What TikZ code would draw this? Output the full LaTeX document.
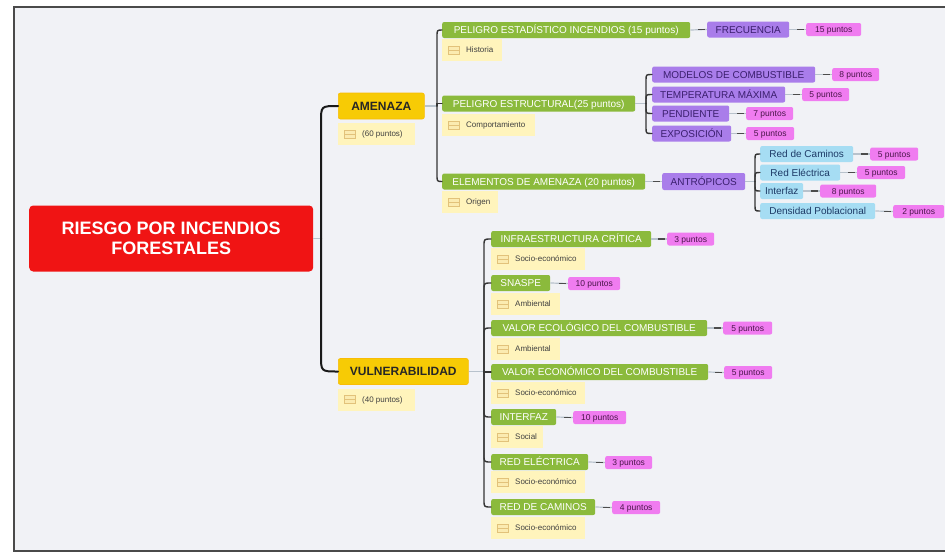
\documentclass[tikz,border=0pt]{standalone}
\usepackage{fontspec}
\setmainfont{Liberation Sans}
\usetikzlibrary{calc}

\definecolor{bgc}{HTML}{F1F2F6}
\definecolor{framec}{HTML}{4A4A4A}
\definecolor{rootc}{HTML}{F01414}
\definecolor{mainc}{HTML}{F7CB05}
\definecolor{notec}{HTML}{FFF4BC}
\definecolor{greenc}{HTML}{8BBA3C}
\definecolor{purplec}{HTML}{A97DEA}
\definecolor{purpletext}{HTML}{3B1F6E}
\definecolor{pinkc}{HTML}{F07CF0}
\definecolor{pinktext}{HTML}{4A154A}
\definecolor{bluec}{HTML}{A6DDF3}
\definecolor{bluetext}{HTML}{1D3A66}
\definecolor{linec}{HTML}{353535}
\definecolor{stubc}{HTML}{B8C2CC}
\definecolor{iconc}{HTML}{E2C27A}
\definecolor{iconfill}{HTML}{FBEBB0}

\tikzset{
  box/.style={anchor=west, inner sep=0pt, rounded corners=2pt, minimum height=16pt},
  rootbox/.style={anchor=west, inner sep=0pt, align=center, fill=rootc, text=white, font=\fontsize{18}{20.5}\selectfont\bfseries, rounded corners=4pt, minimum height=66pt},
  mainbox/.style={box, fill=mainc, draw=mainc!80!orange, line width=0.6pt, text=black!85, font=\fontsize{12}{14}\selectfont\bfseries, minimum height=26pt, text height=8.6pt, text depth=0pt},
  greenbox/.style={box, fill=greenc, text=white, font=\fontsize{10}{12}\selectfont, text height=7.2pt, text depth=0pt},
  purplebox/.style={box, fill=purplec, text=purpletext, font=\fontsize{10}{12}\selectfont, text height=7.2pt, text depth=0pt},
  bluebox/.style={box, fill=bluec, text=bluetext, font=\fontsize{10}{12}\selectfont, text height=7.2pt, text depth=0pt},
  pinkbox/.style={box, fill=pinkc, text=pinktext, font=\fontsize{8.5}{10}\selectfont, minimum height=13pt, text height=6.1pt, text depth=0pt},
  notebox/.style={anchor=west, inner sep=0pt, fill=notec, minimum height=22pt},
  notetext/.style={anchor=west, inner sep=0pt, text=black!75, font=\fontsize{8}{10}\selectfont, text height=5.8pt, text depth=0pt},
  trunk/.style={draw=linec, line width=1.4pt, line cap=round},
  roottrunk/.style={draw=black!90, line width=2pt, line cap=round},
  stub/.style={draw=stubc, line width=1.2pt},
  dashc/.style={draw=black!70, line width=1.4pt},
  iconstyle/.style={draw=iconc, fill=iconfill, line width=0.6pt}
}

% note box with its small icon and text
\newcommand\notenode[5]{%
  \node[notebox, minimum width=#4pt] (#1) at (#2,#3) {};
  \draw[iconstyle] ($(#1.west)+(6,-4)$) rectangle ($(#1.west)+(17,4)$);
  \draw[iconc, line width=0.6pt] ($(#1.west)+(6,0)$) -- ($(#1.west)+(17,0)$);
  \node[notetext] (#1t) at ($(#1.west)+(24,0)$) {#5};
}
% short link between a node and its single follower
\newcommand\linkto[2]{%
  \draw[stub] (#1.east) -- (#2.west);
  \draw[dashc] ($(#2.west)+(-9,0)$) -- ($(#2.west)+(-2,0)$);
}
% branch from a trunk point to a child, bending over the last few points
\newcommand\branch[4][trunk]{%
  \draw[#1] (#2) -- ($(#2|-#4.west)+(0,#3)$) .. controls (#2|-#4.west) .. (#4.west);
}

\begin{document}
\begin{tikzpicture}[x=1pt,y=-1pt]
  \useasboundingbox (0,0) rectangle (945,554);
  \fill[white] (0,0) rectangle (945,554);
  \draw[fill=bgc, draw=framec, line width=2.5pt] (14,7) rectangle (970,551);

  % ---- main nodes
  \node[rootbox, minimum width=284pt] (root) at (29,238.5) {RIESGO POR INCENDIOS\\FORESTALES};
  \node[mainbox, minimum width=86pt] (amen) at (338,106) {AMENAZA};
  \notenode{amenN}{338}{134}{77}{(60 puntos)}
  \node[mainbox, minimum width=130pt] (vuln) at (338,371.5) {VULNERABILIDAD};
  \notenode{vulnN}{338}{399.5}{77}{(40 puntos)}

  % ---- threat branch
  \node[greenbox, minimum width=248pt] (a1) at (442,30) {PELIGRO ESTADÍSTICO INCENDIOS (15 puntos)};
  \notenode{a1n}{442}{50}{60}{Historia}
  \node[greenbox, minimum width=193pt] (a2) at (442,103.5) {PELIGRO ESTRUCTURAL(25 puntos)};
  \notenode{a2n}{442}{125}{93}{Comportamiento}
  \node[greenbox, minimum width=203pt] (a3) at (442,181.5) {ELEMENTOS DE AMENAZA (20 puntos)};
  \notenode{a3n}{442}{202}{56}{Origen}

  \node[purplebox, minimum width=82pt] (frec) at (707,29.5) {FRECUENCIA};
  \node[pinkbox, minimum width=55pt] (frecP) at (806,29.5) {15 puntos};

  \node[purplebox, minimum width=163pt] (mod) at (652,74.5) {MODELOS DE COMBUSTIBLE};
  \node[pinkbox, minimum width=47pt] (modP) at (832,74.5) {8 puntos};
  \node[purplebox, minimum width=133pt] (temp) at (652,94.5) {TEMPERATURA MÁXIMA};
  \node[pinkbox, minimum width=47pt] (tempP) at (802,94.5) {5 puntos};
  \node[purplebox, minimum width=77pt] (pend) at (652,113.5) {PENDIENTE};
  \node[pinkbox, minimum width=47pt] (pendP) at (746,113.5) {7 puntos};
  \node[purplebox, minimum width=79pt] (expo) at (652,133.5) {EXPOSICIÓN};
  \node[pinkbox, minimum width=48pt] (expoP) at (746,133.5) {5 puntos};

  \node[purplebox, minimum width=83pt, minimum height=17pt] (antr) at (662,181.5) {ANTRÓPICOS};
  \node[bluebox, minimum width=93pt] (rcam) at (760,154) {Red de Caminos};
  \node[pinkbox, minimum width=48pt] (rcamP) at (870,154) {5 puntos};
  \node[bluebox, minimum width=80pt] (rele) at (760,172.5) {Red Eléctrica};
  \node[pinkbox, minimum width=48pt] (releP) at (857,172.5) {5 puntos};
  \node[bluebox, minimum width=43pt] (intf) at (760,191) {Interfaz};
  \node[pinkbox, minimum width=56pt] (intfP) at (820,191) {8 puntos};
  \node[bluebox, minimum width=115pt] (dens) at (760,211) {Densidad Poblacional};
  \node[pinkbox, minimum width=51pt] (densP) at (893,211.5) {2 puntos};

  % ---- vulnerability branch
  \node[greenbox, minimum width=160pt] (v1) at (491,239) {INFRAESTRUCTURA CRÍTICA};
  \node[pinkbox, minimum width=47pt] (v1P) at (667,239) {3 puntos};
  \notenode{v1n}{491}{259}{94}{Socio-económico}
  \node[greenbox, minimum width=59pt] (v2) at (491,283) {SNASPE};
  \node[pinkbox, minimum width=52pt] (v2P) at (568,283.5) {10 puntos};
  \notenode{v2n}{491}{304}{69}{Ambiental}
  \node[greenbox, minimum width=216pt] (v3) at (491,328) {VALOR ECOLÓGICO DEL COMBUSTIBLE};
  \node[pinkbox, minimum width=49pt] (v3P) at (723,328) {5 puntos};
  \notenode{v3n}{491}{349}{69}{Ambiental}
  \node[greenbox, minimum width=217pt] (v4) at (491,372) {VALOR ECONÓMICO DEL COMBUSTIBLE};
  \node[pinkbox, minimum width=48pt] (v4P) at (724,372.5) {5 puntos};
  \notenode{v4n}{491}{393}{94}{Socio-económico}
  \node[greenbox, minimum width=65pt] (v5) at (491,417) {INTERFAZ};
  \node[pinkbox, minimum width=53pt] (v5P) at (573,417.5) {10 puntos};
  \notenode{v5n}{491}{437}{52}{Social}
  \node[greenbox, minimum width=97pt] (v6) at (491,462) {RED ELÉCTRICA};
  \node[pinkbox, minimum width=47pt] (v6P) at (605,462.5) {3 puntos};
  \notenode{v6n}{491}{482}{94}{Socio-económico}
  \node[greenbox, minimum width=104pt] (v7) at (491,507) {RED DE CAMINOS};
  \node[pinkbox, minimum width=48pt] (v7P) at (612,507.5) {4 puntos};
  \notenode{v7n}{491}{528}{94}{Socio-económico}

  % ---- trunk points
  \coordinate (tR) at (321,238.5);
  \coordinate (tA) at (437,106);
  \coordinate (tE) at (646,103.5);
  \coordinate (tP) at (755,181.5);
  \coordinate (tV) at (484,371.5);

  % ---- root connectors
  \draw[stub] (root.east) -- (tR);
  \branch[roottrunk]{tR}{16}{amen}
  \branch[roottrunk]{tR}{-16}{vuln}

  % ---- threat connectors
  \draw[stub] (amen.east) -- (tA);
  \branch{tA}{7}{a1}
  \branch{tA}{0}{a2}
  \branch{tA}{-7}{a3}

  \linkto{a1}{frec}
  \linkto{frec}{frecP}

  \draw[stub] (a2.east) -- (tE);
  \branch{tE}{6}{mod}
  \branch{tE}{6}{temp}
  \branch{tE}{-6}{pend}
  \branch{tE}{-6}{expo}
  \linkto{mod}{modP}
  \linkto{temp}{tempP}
  \linkto{pend}{pendP}
  \linkto{expo}{expoP}

  \linkto{a3}{antr}
  \draw[stub] (antr.east) -- (tP);
  \branch{tP}{6}{rcam}
  \branch{tP}{6}{rele}
  \branch{tP}{-6}{intf}
  \branch{tP}{-6}{dens}
  \linkto{rcam}{rcamP}
  \linkto{rele}{releP}
  \linkto{intf}{intfP}
  \linkto{dens}{densP}

  % ---- vulnerability connectors
  \draw[stub] (vuln.east) -- (tV);
  \branch{tV}{7}{v1}
  \branch{tV}{7}{v2}
  \branch{tV}{7}{v3}
  \branch{tV}{0}{v4}
  \branch{tV}{-7}{v5}
  \branch{tV}{-7}{v6}
  \branch{tV}{-7}{v7}
  \linkto{v1}{v1P}
  \linkto{v2}{v2P}
  \linkto{v3}{v3P}
  \linkto{v4}{v4P}
  \linkto{v5}{v5P}
  \linkto{v6}{v6P}
  \linkto{v7}{v7P}
\end{tikzpicture}
\end{document}
